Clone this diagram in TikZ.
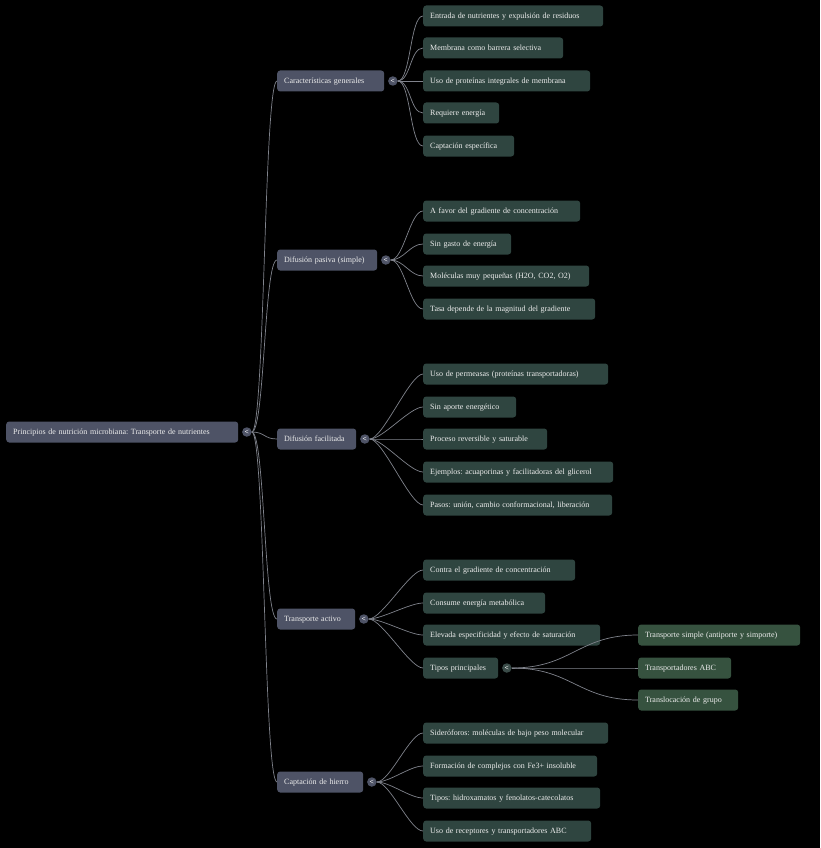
\documentclass[tikz,border=0pt]{standalone}
\usepackage{fontspec}
\setmainfont{Liberation Serif}
\usetikzlibrary{positioning}
\frenchspacing
\definecolor{BG}{HTML}{000000}
\definecolor{TOP}{HTML}{4E5366}
\definecolor{LEAF}{HTML}{2F4540}
\definecolor{SUBLEAF}{HTML}{36523F}
\definecolor{LEAFDOT}{HTML}{3A4B48}
\definecolor{WIRE}{HTML}{80838C}
\definecolor{LABEL}{HTML}{ECECEC}

\begin{document}
\begin{tikzpicture}[
    x=1pt, y=-1pt,
    box/.style={anchor=west, rounded corners=3pt, text=LABEL, align=left,
      font=\fontsize{8}{9.5}\selectfont, inner xsep=7pt, inner ysep=0pt,
      text height=5.8pt, text depth=1.6pt, minimum height=21pt},
    topic/.style={box, fill=TOP},
    leaf/.style={box, fill=LEAF},
    subleaf/.style={box, fill=SUBLEAF},
    toggle/.style={circle, fill=TOP, inner sep=0pt, minimum size=9.5pt, text=white,
      font=\bfseries\fontsize{7.5}{7.5}\selectfont, right=3.5pt of #1},
    wire/.style={draw=WIRE, line width=0.7pt},
  ]

  % background
  \fill[BG] (0,0) rectangle (820,848);
  \useasboundingbox (0,0) rectangle (820,848);

  % root
  \node[topic, text width=218pt] (root) at (6,432) {Principios de nutrición microbiana: Transporte de nutrientes};
  \node[toggle=root] (root-t) {<};

  % main branches
  \node[topic, text width=93pt] (cg) at (277,81) {Características generales};
  \node[topic, text width=86pt] (dp) at (277,260) {Difusión pasiva (simple)};
  \node[topic, text width=65pt] (df) at (277,439) {Difusión facilitada};
  \node[topic, text width=64pt] (ta) at (277,619) {Transporte activo};
  \node[topic, text width=72pt] (ch) at (277,782) {Captación de hierro};
  \foreach \k in {cg,dp,df,ta,ch} {
    \node[toggle=\k] (\k-t) {<};
    \draw[wire] (root-t.east) .. controls +(13,0) and +(-13,0) .. (\k.west);
  }

  % caracteristicas generales
  \node[leaf, text width=166pt] (cg1) at (423,16) {Entrada de nutrientes y expulsión de residuos};
  \node[leaf, text width=126pt] (cg2) at (423,48) {Membrana como barrera selectiva};
  \node[leaf, text width=153pt] (cg3) at (423,81) {Uso de proteínas integrales de membrana};
  \node[leaf, text width=62pt]  (cg4) at (423,113) {Requiere energía};
  \node[leaf, text width=77pt]  (cg5) at (423,146) {Captación específica};

  % difusion pasiva
  \node[leaf, text width=143pt] (dp1) at (423,211) {A favor del gradiente de concentración};
  \node[leaf, text width=74pt]  (dp2) at (423,244) {Sin gasto de energía};
  \node[leaf, text width=152pt] (dp3) at (423,276) {Moléculas muy pequeñas (H2O, CO2, O2)};
  \node[leaf, text width=158pt] (dp4) at (423,309) {Tasa depende de la magnitud del gradiente};

  % difusion facilitada
  \node[leaf, text width=171pt] (df1) at (423,374) {Uso de permeasas (proteínas transportadoras)};
  \node[leaf, text width=79pt]  (df2) at (423,407) {Sin aporte energético};
  \node[leaf, text width=110pt] (df3) at (423,439) {Proceso reversible y saturable};
  \node[leaf, text width=176pt] (df4) at (423,472) {Ejemplos: acuaporinas y facilitadoras del glicerol};
  \node[leaf, text width=175pt] (df5) at (423,505) {Pasos: unión, cambio conformacional, liberación};

  % transporte activo
  \node[leaf, text width=138pt] (ta1) at (423,570) {Contra el gradiente de concentración};
  \node[leaf, text width=108pt] (ta2) at (423,603) {Consume energía metabólica};
  \node[leaf, text width=163pt] (ta3) at (423,635) {Elevada especificidad y efecto de saturación};
  \node[leaf, text width=61pt]  (ta4) at (423,668) {Tipos principales};
  \node[toggle=ta4, fill=LEAFDOT] (ta4-t) {<};

  % tipos principales
  \node[subleaf, text width=148pt] (tp1) at (638,635) {Transporte simple (antiporte y simporte)};
  \node[subleaf, text width=79pt]  (tp2) at (638,668) {Transportadores ABC};
  \node[subleaf, text width=86pt]  (tp3) at (638,700) {Translocación de grupo};

  % captacion de hierro
  \node[leaf, text width=171pt] (ch1) at (423,733) {Sideróforos: moléculas de bajo peso molecular};
  \node[leaf, text width=160pt] (ch2) at (423,766) {Formación de complejos con Fe3+ insoluble};
  \node[leaf, text width=163pt] (ch3) at (423,798) {Tipos: hidroxamatos y fenolatos-catecolatos};
  \node[leaf, text width=154pt] (ch4) at (423,831) {Uso de receptores y transportadores ABC};

  % connectors
  \foreach \k in {1,...,5} \draw[wire] (cg-t.east) .. controls +(13,0) and +(-13,0) .. (cg\k.west);
  \foreach \k in {1,...,4} \draw[wire] (dp-t.east) .. controls +(13,0) and +(-13,0) .. (dp\k.west);
  \foreach \k in {1,...,5} \draw[wire] (df-t.east) .. controls +(13,0) and +(-13,0) .. (df\k.west);
  \foreach \k in {1,...,4} \draw[wire] (ta-t.east) .. controls +(13,0) and +(-13,0) .. (ta\k.west);
  \foreach \k in {1,...,3} \draw[wire] (ta4-t.east) .. controls +(60,0) and +(-60,0) .. (tp\k.west);
  \foreach \k in {1,...,4} \draw[wire] (ch-t.east) .. controls +(13,0) and +(-13,0) .. (ch\k.west);

\end{tikzpicture}
\end{document}
